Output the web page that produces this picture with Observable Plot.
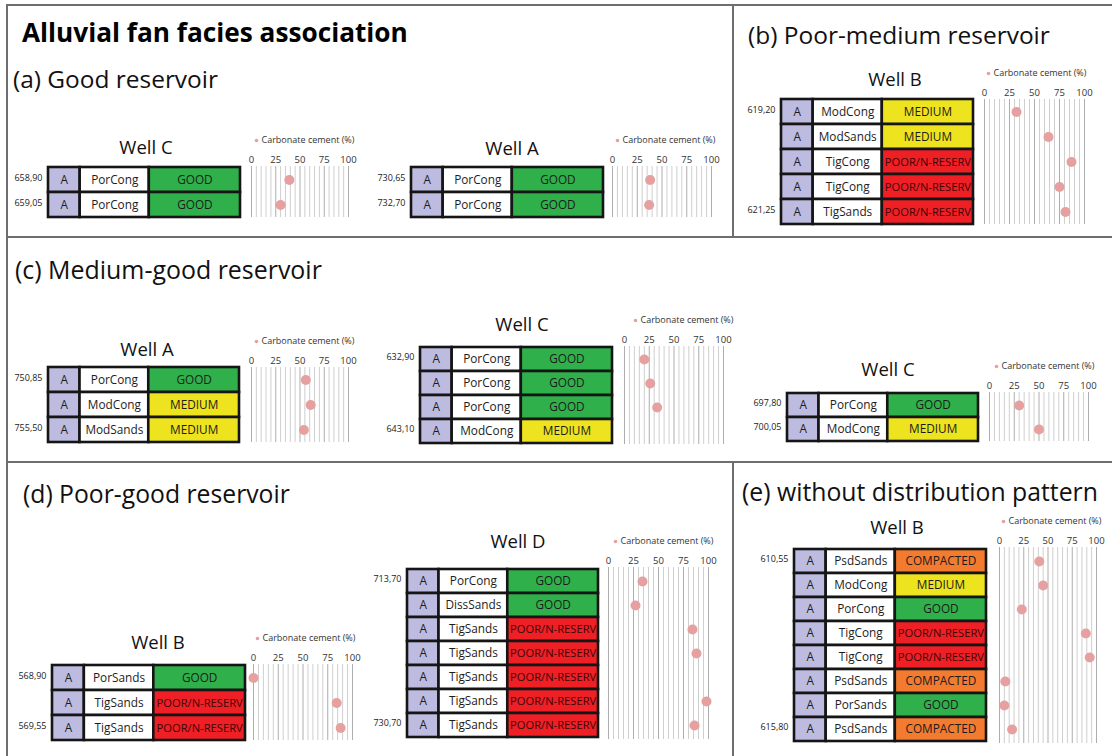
<!DOCTYPE html>
<html>
<head>
<meta charset="utf-8">
<script src="https://cdn.jsdelivr.net/npm/d3@7"></script>
<script src="https://cdn.jsdelivr.net/npm/@observablehq/plot@0.6"></script>
<style>
  html, body { margin: 0; padding: 0; background: #fff; }
  #root { position: relative; width: 1112px; height: 756px; overflow: hidden; font-family: "Open Sans", "Noto Sans", sans-serif; color: #111; }
  .t { position: absolute; white-space: nowrap; line-height: 1; }
  .line { position: absolute; background: #6e6e6e; }
</style>
</head>
<body>
<div id="root"></div>
<script>
// ---------------- DATA ----------------
const mainTitle = "Alluvial fan facies association";
const panelTitles = ["(a) Good reservoir", "(b) Poor-medium reservoir", "(c) Medium-good reservoir", "(d) Poor-good reservoir", "(e) without distribution pattern"];
const association = "A";
const legendLabel = "Carbonate cement (%)";
const cementTicks = [0, 25, 50, 75, 100];
const cementGrid = [0, 5, 10, 15, 20, 25, 30, 35, 40, 45, 50, 55, 60, 65, 70, 75, 80, 85, 90, 95, 100];

// (a) Well C
const aWellCDepth = ["658,90", "659,05"];
const aWellCFacies = ["PorCong", "PorCong"];
const aWellCQuality = ["GOOD", "GOOD"];
const aWellCCement = [39, 30];
// (a) Well A
const aWellADepth = ["730,65", "732,70"];
const aWellAFacies = ["PorCong", "PorCong"];
const aWellAQuality = ["GOOD", "GOOD"];
const aWellACement = [38, 37];
// (b) Well B
const bWellBDepth = ["619,20", "621,25"];
const bWellBFacies = ["ModCong", "ModSands", "TigCong", "TigCong", "TigSands"];
const bWellBQuality = ["MEDIUM", "MEDIUM", "POOR/N-RESERV", "POOR/N-RESERV", "POOR/N-RESERV"];
const bWellBCement = [32, 64, 87, 75, 81];
// (c) Well A
const cWellADepth = ["750,85", "755,50"];
const cWellAFacies = ["PorCong", "ModCong", "ModSands"];
const cWellAQuality = ["GOOD", "MEDIUM", "MEDIUM"];
const cWellACement = [56, 61, 54];
// (c) Well C (middle)
const cWellC1Depth = ["632,90", "643,10"];
const cWellC1Facies = ["PorCong", "PorCong", "PorCong", "ModCong"];
const cWellC1Quality = ["GOOD", "GOOD", "GOOD", "MEDIUM"];
const cWellC1Cement = [20, 26, 33, null];
// (c) Well C (right)
const cWellC2Depth = ["697,80", "700,05"];
const cWellC2Facies = ["PorCong", "ModCong"];
const cWellC2Quality = ["GOOD", "MEDIUM"];
const cWellC2Cement = [30, 50];
// (d) Well B
const dWellBDepth = ["568,90", "569,55"];
const dWellBFacies = ["PorSands", "TigSands", "TigSands"];
const dWellBQuality = ["GOOD", "POOR/N-RESERV", "POOR/N-RESERV"];
const dWellBCement = [0, 84, 88];
// (d) Well D
const dWellDDepth = ["713,70", "730,70"];
const dWellDFacies = ["PorCong", "DissSands", "TigSands", "TigSands", "TigSands", "TigSands", "TigSands"];
const dWellDQuality = ["GOOD", "GOOD", "POOR/N-RESERV", "POOR/N-RESERV", "POOR/N-RESERV", "POOR/N-RESERV", "POOR/N-RESERV"];
const dWellDCement = [34, 27, 84, 88, null, 98, 86];
// (e) Well B
const eWellBDepth = ["610,55", "615,80"];
const eWellBFacies = ["PsdSands", "ModCong", "PorCong", "TigCong", "TigCong", "PsdSands", "PorSands", "PsdSands"];
const eWellBQuality = ["COMPACTED", "MEDIUM", "GOOD", "POOR/N-RESERV", "POOR/N-RESERV", "COMPACTED", "GOOD", "COMPACTED"];
const eWellBCement = [41, 45, 23, 89, 93, 6, 5, 13];

// ---------------- STYLE / LAYOUT ----------------
const FONT = '"Open Sans", "Noto Sans", sans-serif';
const colEdges = [0, 0.165, 0.525, 1];
const fillDomain = ["assoc", "facies", "GOOD", "MEDIUM", "POOR/N-RESERV", "COMPACTED"];
const fillRange = ["#bdbce0", "#ffffff", "#2fb04b", "#eee31f", "#ee2026", "#f37b2f"];
const dotColor = "#e6a0a0";

const wells = [
  {name: "Well C", depth: aWellCDepth, facies: aWellCFacies, quality: aWellCQuality, cement: aWellCCement,
   L: 48, R: 240, T: 166, B: 217, gL: 251, gR: 348, lx: 146, ly: 148, legX: 256},
  {name: "Well A", depth: aWellADepth, facies: aWellAFacies, quality: aWellAQuality, cement: aWellACement,
   L: 411, R: 603, T: 166, B: 217, gL: 612, gR: 711, lx: 512, ly: 149, legX: 617},
  {name: "Well B", depth: bWellBDepth, facies: bWellBFacies, quality: bWellBQuality, cement: bWellBCement,
   L: 781, R: 973, T: 99, B: 224, gL: 984, gR: 1084, lx: 895, ly: 80, legX: 988},
  {name: "Well A", depth: cWellADepth, facies: cWellAFacies, quality: cWellAQuality, cement: cWellACement,
   L: 48, R: 239, T: 367, B: 442, gL: 251, gR: 348, lx: 147, ly: 350, legX: 256},
  {name: "Well C", depth: cWellC1Depth, facies: cWellC1Facies, quality: cWellC1Quality, cement: cWellC1Cement,
   L: 420, R: 612, T: 346, B: 444, gL: 624, gR: 723, lx: 522, ly: 325, legX: 635},
  {name: "Well C", depth: cWellC2Depth, facies: cWellC2Facies, quality: cWellC2Quality, cement: cWellC2Cement,
   L: 787, R: 978, T: 392, B: 441, gL: 989, gR: 1088, lx: 888, ly: 370, legX: 996},
  {name: "Well B", depth: dWellBDepth, facies: dWellBFacies, quality: dWellBQuality, cement: dWellBCement,
   L: 52, R: 245, T: 664, B: 740, gL: 253, gR: 352, lx: 158, ly: 643, legX: 257},
  {name: "Well D", depth: dWellDDepth, facies: dWellDFacies, quality: dWellDQuality, cement: dWellDCement,
   L: 407, R: 598, T: 567, B: 739, gL: 608, gR: 708, lx: 518, ly: 542, legX: 615},
  {name: "Well B", depth: eWellBDepth, facies: eWellBFacies, quality: eWellBQuality, cement: eWellBCement,
   L: 794, R: 986, T: 547, B: 743, gL: 999, gR: 1096, lx: 897, ly: 528, legX: 1003}
];

const titleLayout = [
  {x: 13, cy: 80, w: 205},
  {x: 748, cy: 36, w: 302},
  {x: 15, cy: 270, w: 307},
  {x: 23, cy: 495, w: 267},
  {x: 742, cy: 493, w: 356}
];

const root = document.getElementById("root");

function line(x, y, w, h) {
  const d = document.createElement("div");
  d.className = "line";
  Object.assign(d.style, {left: x + "px", top: y + "px", width: w + "px", height: h + "px"});
  root.appendChild(d);
}
function text(str, x, cy, size, opts = {}) {
  const d = document.createElement("div");
  d.className = "t";
  d.textContent = str;
  d.style.fontSize = size + "px";
  d.style.fontWeight = opts.weight || 400;
  d.style.color = opts.color || "#111";
  root.appendChild(d);
  if (opts.fitWidth) {
    const w0 = d.getBoundingClientRect().width;
    size = size * opts.fitWidth / w0;
    d.style.fontSize = size + "px";
  }
  d.style.top = (cy - 0.54 * size) + "px";
  d.style.left = x + "px";
  if (opts.center) d.style.transform = "translateX(-50%)";
  return d;
}

// panel frame lines
line(6, 4, 1106, 2);
line(6, 4, 2, 752);
line(6, 236, 1106, 2);
line(6, 461, 1106, 2);
line(732, 4, 2, 233);
line(732, 461, 2, 295);

// titles
text(mainTitle, 22, 33, 21, {weight: 700, fitWidth: 386, color: "#000"});
panelTitles.forEach((t, i) => text(t, titleLayout[i].x, titleLayout[i].cy, 22, {fitWidth: titleLayout[i].w}));

function place(svg, left, top) {
  svg.style.position = "absolute";
  svg.style.left = left + "px";
  svg.style.top = top + "px";
  root.appendChild(svg);
}

function drawWell(w) {
  const n = w.facies.length;
  const W = w.R - w.L, H = w.B - w.T;
  const rows = w.facies.map((f, i) => ({i, facies: f, quality: w.quality[i], cement: w.cement[i]}));
  const cells = rows.flatMap(r => [
    {i: r.i, c: 0, key: "assoc", label: association},
    {i: r.i, c: 1, key: "facies", label: r.facies},
    {i: r.i, c: 2, key: r.quality, label: r.quality}
  ]);
  const depthRows = [{i: 0, t: w.depth[0]}, {i: n - 1, t: w.depth[1]}];
  const mL = 50, pad = 4;
  const midX = d => (colEdges[d.c] + colEdges[d.c + 1]) / 2;
  const table = Plot.plot({
    width: W + mL + pad, height: H + 2 * pad,
    marginLeft: mL, marginRight: pad, marginTop: pad, marginBottom: pad,
    style: {fontFamily: FONT, background: "transparent", overflow: "visible", maxWidth: "none"},
    x: {type: "linear", domain: [0, 1], axis: null},
    y: {type: "band", domain: d3.range(n), axis: null, padding: 0},
    color: {domain: fillDomain, range: fillRange},
    marks: [
      Plot.barX(cells, {x1: d => colEdges[d.c], x2: d => colEdges[d.c + 1], y: "i", fill: "key", stroke: "#151515", strokeWidth: 2.6}),
      Plot.text(cells, {filter: d => d.key !== "POOR/N-RESERV", x: midX, y: "i", text: "label", fontSize: 11.8, fill: "#1c1c1c"}),
      Plot.text(cells, {filter: d => d.key === "POOR/N-RESERV", x: midX, y: "i", text: "label", fontSize: 11.2, letterSpacing: "-0.2px", fill: "#3f0404"}),
      Plot.text(depthRows, {x: 0, y: "i", text: "t", textAnchor: "end", dx: -6, dy: -2, fontSize: 9, fill: "#222"})
    ]
  });
  place(table, w.L - mL, w.T - pad);

  const gW = w.gR - w.gL, dm = 10, mT = 22, mB = 1;
  const dots = Plot.plot({
    width: gW + 2 * dm, height: H + mT + mB,
    marginLeft: dm, marginRight: dm, marginTop: mT, marginBottom: mB,
    style: {fontFamily: FONT, fontSize: "9.5px", background: "transparent", overflow: "visible", maxWidth: "none", color: "#333"},
    x: {type: "linear", domain: [0, 100]},
    y: {type: "band", domain: d3.range(n), axis: null, padding: 0},
    marks: [
      Plot.ruleX(cementGrid.filter(v => !cementTicks.includes(v)), {stroke: "#cfcfcf", strokeWidth: 1}),
      Plot.ruleX(cementTicks, {stroke: "#adadad", strokeWidth: 1}),
      Plot.axisX({anchor: "top", ticks: cementTicks, tickSize: 0, tickPadding: 4, fontSize: 9.5, label: null}),
      Plot.dot(rows.filter(r => r.cement != null), {x: "cement", y: "i", r: 5, fill: dotColor})
    ]
  });
  place(dots, w.gL - dm, w.T - mT);

  // well name
  text(w.name, w.lx, w.ly, 18.5, {center: true});
  // legend
  const ly = w.T - 26;
  const leg = Plot.plot({
    width: 110, height: 14, margin: 0,
    style: {fontFamily: FONT, background: "transparent", overflow: "visible", maxWidth: "none"},
    x: {type: "identity", axis: null}, y: {type: "identity", axis: null},
    marks: [
      Plot.dot([legendLabel], {x: 3, y: 7, r: 1.8, fill: dotColor}),
      Plot.text([legendLabel], {x: 8, y: 7, text: d => d, textAnchor: "start", fontSize: 9, fill: "#333"})
    ]
  });
  place(leg, w.legX - 3, ly - 7);
}

wells.forEach(drawWell);
</script>
</body>
</html>
